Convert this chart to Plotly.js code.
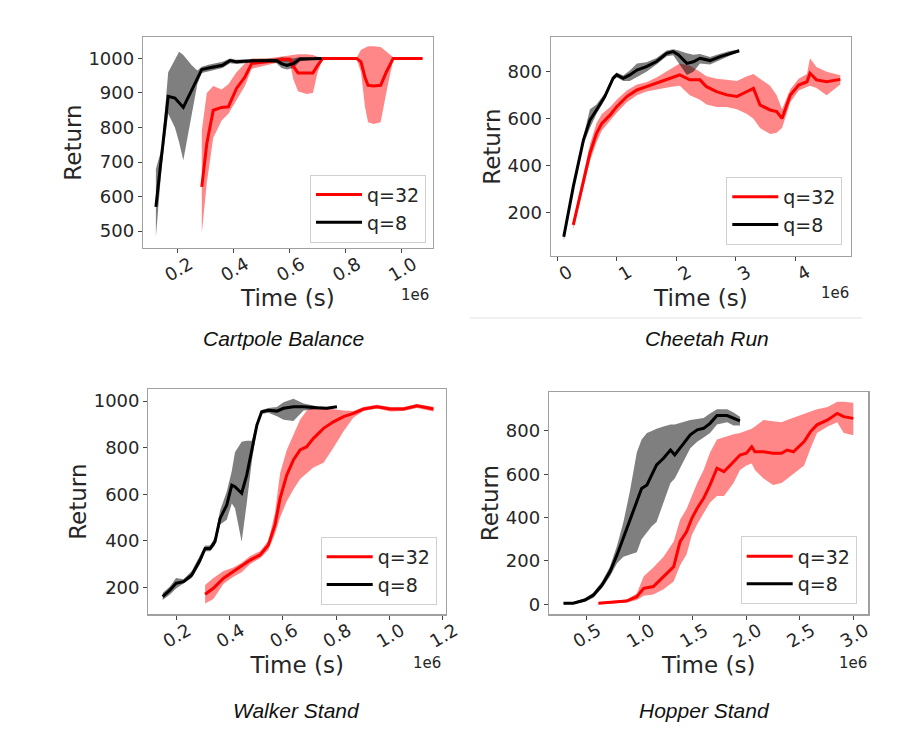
<!DOCTYPE html>
<html>
<head>
<meta charset="utf-8">
<script src="https://cdn.plot.ly/plotly-3.0.1.min.js"></script>
<style>html,body{margin:0;padding:0;background:#fff;}#chart{width:916px;height:744px;}</style>
</head>
<body>
<div id="chart"></div>
<script>
// ---------- Data (time in units of 1e6 s, return) ----------
// Cartpole Balance
const cartpoleTime8 = [0.122, 0.143, 0.166, 0.19, 0.205, 0.22, 0.25, 0.27, 0.286, 0.31, 0.34, 0.36, 0.387, 0.41, 0.47, 0.53, 0.553, 0.571, 0.59, 0.613, 0.637, 0.68, 0.714];
const cartpoleMean8 = [570, 715, 890, 885, 870, 858, 908, 940, 968, 972, 978, 980, 994, 990, 993, 994, 994, 985, 980, 985, 998, 999, 1000];
const cartpoleLow8  = [483, 690, 840, 800, 757, 705, 840, 925, 958, 962, 968, 972, 986, 984, 988, 989, 986, 972, 968, 972, 992, 996, 998];
const cartpoleHigh8 = [680, 740, 960, 995, 1019, 1010, 980, 965, 976, 982, 988, 990, 1000, 996, 998, 998, 1000, 1003, 1002, 1000, 1004, 1002, 1002];
const cartpoleTime32 = [0.286, 0.304, 0.327, 0.357, 0.381, 0.41, 0.44, 0.464, 0.52, 0.57, 0.6, 0.613, 0.63, 0.66, 0.683, 0.7, 0.718, 0.78, 0.839, 0.855, 0.869, 0.88, 0.9, 0.925, 0.945, 0.97, 1.02, 1.075];
const cartpoleMean32 = [628, 754, 850, 858, 860, 913, 946, 985, 990, 997, 998, 977, 958, 958, 958, 980, 1000, 1000, 1000, 990, 945, 922, 920, 922, 960, 1000, 1000, 1000];
const cartpoleLow32  = [493, 640, 770, 820, 840, 880, 920, 970, 980, 990, 990, 940, 905, 897, 900, 960, 998, 998, 998, 960, 860, 815, 810, 815, 900, 997, 998, 998];
const cartpoleHigh32 = [790, 900, 920, 910, 925, 960, 985, 1000, 1000, 1005, 1008, 1010, 1012, 1012, 1010, 1005, 1002, 1002, 1002, 1025, 1032, 1035, 1035, 1033, 1020, 1003, 1002, 1002];

// Cheetah Run
const cheetahTime8 = [0.11, 0.27, 0.44, 0.55, 0.66, 0.80, 0.94, 1.0, 1.11, 1.22, 1.34, 1.5, 1.67, 1.84, 1.95, 2.04, 2.18, 2.29, 2.4, 2.57, 2.74, 2.9, 3.06];
const cheetahMean8 = [98, 311, 509, 594, 637, 694, 772, 786, 772, 786, 807, 821, 843, 878, 885, 871, 835, 842, 857, 847, 864, 878, 889];
const cheetahLow8  = [80, 295, 490, 560, 620, 680, 762, 776, 760, 760, 775, 800, 830, 865, 870, 840, 786, 800, 835, 830, 850, 868, 884];
const cheetahHigh8 = [115, 325, 525, 640, 660, 708, 782, 796, 784, 805, 835, 840, 858, 890, 895, 890, 878, 872, 875, 862, 876, 888, 894];
const cheetahTime32 = [0.27, 0.38, 0.55, 0.66, 0.75, 0.89, 1.0, 1.17, 1.34, 1.5, 1.67, 1.9, 2.06, 2.23, 2.4, 2.51, 2.68, 2.85, 3.02, 3.19, 3.3, 3.41, 3.58, 3.69, 3.78, 3.92, 4.06, 4.2, 4.25, 4.36, 4.53, 4.76];
const cheetahMean32 = [148, 268, 453, 538, 580, 616, 651, 694, 722, 736, 750, 772, 786, 765, 765, 736, 715, 701, 694, 715, 729, 658, 637, 630, 601, 701, 743, 757, 793, 765, 757, 767];
const cheetahLow32  = [130, 245, 420, 500, 550, 590, 625, 670, 700, 715, 725, 735, 740, 700, 680, 660, 650, 650, 640, 620, 600, 560, 535, 540, 560, 670, 720, 735, 740, 730, 700, 745];
const cheetahHigh32 = [165, 290, 490, 580, 620, 650, 680, 720, 745, 755, 775, 810, 835, 825, 800, 780, 770, 765, 760, 780, 790, 770, 740, 700, 640, 725, 770, 790, 857, 820, 800, 785];

// Walker Stand
const walkerTime8 = [0.15, 0.178, 0.2, 0.228, 0.259, 0.29, 0.309, 0.328, 0.346, 0.365, 0.39, 0.409, 0.421, 0.446, 0.465, 0.484, 0.503, 0.521, 0.546, 0.578, 0.603, 0.64, 0.678, 0.728, 0.765, 0.803];
const walkerMean8 = [160, 189, 217, 224, 253, 317, 367, 367, 396, 496, 553, 639, 632, 604, 682, 782, 897, 954, 961, 957, 969, 976, 976, 971, 969, 976];
const walkerLow8  = [145, 170, 195, 215, 240, 300, 355, 355, 380, 470, 490, 560, 540, 396, 560, 740, 880, 945, 950, 935, 920, 915, 960, 965, 964, 972];
const walkerHigh8 = [175, 205, 240, 235, 270, 335, 380, 380, 415, 530, 610, 700, 780, 825, 830, 830, 910, 962, 970, 975, 995, 1010, 990, 978, 974, 980];
const walkerTime32 = [0.309, 0.34, 0.378, 0.415, 0.446, 0.478, 0.515, 0.546, 0.571, 0.59, 0.615, 0.64, 0.665, 0.69, 0.715, 0.753, 0.79, 0.828, 0.865, 0.903, 0.953, 1.003, 1.053, 1.103, 1.165];
const walkerMean32 = [170, 196, 239, 267, 289, 317, 339, 382, 468, 582, 682, 747, 790, 804, 840, 883, 911, 933, 947, 966, 976, 966, 966, 980, 966];
const walkerLow32  = [130, 150, 215, 245, 265, 300, 325, 360, 430, 500, 570, 620, 665, 690, 715, 735, 800, 870, 930, 958, 968, 955, 958, 970, 955];
const walkerHigh32 = [210, 240, 270, 285, 305, 335, 355, 400, 520, 690, 790, 854, 920, 960, 976, 975, 965, 960, 958, 975, 984, 975, 975, 988, 976];

// Hopper Stand
const hopperTime8 = [0.29, 0.38, 0.49, 0.57, 0.65, 0.725, 0.79, 0.85, 0.91, 0.975, 1.02, 1.07, 1.115, 1.16, 1.225, 1.29, 1.33, 1.4, 1.475, 1.54, 1.6, 1.66, 1.725, 1.82, 1.88, 1.94];
const hopperMean8 = [5, 5, 20, 43, 89, 151, 228, 305, 381, 474, 535, 551, 597, 643, 674, 712, 689, 735, 782, 805, 812, 835, 871, 871, 858, 846];
const hopperLow8  = [0, 0, 12, 30, 75, 130, 190, 220, 230, 240, 300, 330, 360, 380, 470, 560, 580, 650, 720, 750, 770, 790, 830, 840, 825, 825];
const hopperHigh8 = [10, 10, 28, 55, 105, 175, 270, 380, 520, 700, 760, 790, 800, 810, 820, 830, 830, 840, 850, 855, 860, 880, 900, 900, 885, 865];
const hopperTime32 = [0.616, 0.725, 0.88, 0.975, 1.04, 1.13, 1.225, 1.32, 1.38, 1.44, 1.49, 1.54, 1.6, 1.66, 1.725, 1.79, 1.88, 1.94, 2.0, 2.05, 2.08, 2.16, 2.25, 2.33, 2.38, 2.44, 2.54, 2.6, 2.66, 2.76, 2.85, 2.91, 3.0];
const hopperMean32 = [5, 9, 15, 35, 74, 82, 128, 174, 289, 335, 397, 443, 489, 551, 628, 612, 658, 689, 697, 727, 704, 704, 697, 697, 712, 704, 751, 797, 828, 851, 881, 866, 858];
const hopperLow32  = [0, 3, 8, 20, 40, 45, 70, 105, 180, 230, 320, 370, 420, 470, 500, 500, 560, 620, 640, 650, 620, 580, 550, 560, 580, 600, 640, 720, 790, 820, 840, 790, 780];
const hopperHigh32 = [10, 15, 22, 50, 130, 170, 220, 290, 390, 440, 500, 560, 620, 700, 760, 770, 785, 790, 800, 810, 820, 850, 845, 840, 850, 860, 880, 890, 900, 910, 935, 935, 930];

const seriesNames = ['q=32', 'q=8'];
const panelTitles = ['Cartpole Balance', 'Cheetah Run', 'Walker Stand', 'Hopper Stand'];

// ---------- Build ----------
const panels = [
  {xa:'x', ya:'y', lg:'legend',
   s32:[cartpoleTime32, cartpoleMean32, cartpoleLow32, cartpoleHigh32],
   s8:[cartpoleTime8, cartpoleMean8, cartpoleLow8, cartpoleHigh8]},
  {xa:'x2', ya:'y2', lg:'legend2',
   s32:[cheetahTime32, cheetahMean32, cheetahLow32, cheetahHigh32],
   s8:[cheetahTime8, cheetahMean8, cheetahLow8, cheetahHigh8]},
  {xa:'x3', ya:'y3', lg:'legend3',
   s32:[walkerTime32, walkerMean32, walkerLow32, walkerHigh32],
   s8:[walkerTime8, walkerMean8, walkerLow8, walkerHigh8]},
  {xa:'x4', ya:'y4', lg:'legend4',
   s32:[hopperTime32, hopperMean32, hopperLow32, hopperHigh32],
   s8:[hopperTime8, hopperMean8, hopperLow8, hopperHigh8]}
];

function band(s, xa, ya, color){
  const [t, m, lo, hi] = s;
  return {x: t.concat(t.slice().reverse()), y: hi.concat(lo.slice().reverse()),
    xaxis:xa, yaxis:ya, type:'scatter', mode:'lines', fill:'toself',
    fillcolor:color, line:{width:0}, hoverinfo:'skip', showlegend:false};
}
function line(s, xa, ya, color, name, lg){
  return {x:s[0], y:s[1], xaxis:xa, yaxis:ya, type:'scatter', mode:'lines',
    line:{color:color, width:3}, name:name, legend:lg};
}

const traces = [];
panels.forEach(p => {
  traces.push(band(p.s32, p.xa, p.ya, 'rgba(255,0,0,0.47)'));
  traces.push(band(p.s8, p.xa, p.ya, 'rgba(0,0,0,0.5)'));
  traces.push(line(p.s32, p.xa, p.ya, '#ff0000', seriesNames[0], p.lg));
  traces.push(line(p.s8, p.xa, p.ya, '#000000', seriesNames[1], p.lg));
});

const W = 916, H = 744;
const fx = v => v / W, fy = v => 1 - v / H;
const txt = '#262626';
function xaxis(dom, anchor, range, dtick, fmt){
  return {domain:[fx(dom[0]), fx(dom[1])], anchor:anchor, range:range, dtick:dtick, tick0:0,
    tickformat:fmt, showline:true, mirror:true, linecolor:'#a0a0a0', linewidth:1.2,
    ticks:'outside', ticklen:4, tickcolor:'#444', showgrid:false, zeroline:false,
    tickangle:-30, ticklabelshift:12, ticklabelstandoff:-6,
    tickfont:{family:'DejaVu Sans', size:18, color:txt},
    title:{text:'Time (s)', standoff:2, font:{family:'DejaVu Sans', size:23, color:txt}}};
}
function yaxis(dom, anchor, range, dtick){
  return {domain:[fy(dom[1]), fy(dom[0])], anchor:anchor, range:range, dtick:dtick, tick0:0,
    showline:true, mirror:true, linecolor:'#a0a0a0', linewidth:1.2,
    ticks:'outside', ticklen:4, tickcolor:'#444', showgrid:false, zeroline:false,
    tickfont:{family:'DejaVu Sans', size:18, color:txt},
    title:{text:'Return', standoff:0, font:{family:'DejaVu Sans', size:23, color:txt}}};
}
function legend(right, bottom){
  return {x:fx(right), y:fy(bottom), xanchor:'right', yanchor:'bottom',
    bgcolor:'rgba(255,255,255,0.85)', bordercolor:'#d0d0d0', borderwidth:1,
    itemwidth:46,
    font:{family:'DejaVu Sans', size:19, color:txt}, tracegroupgap:0};
}
function note(text, px, py, size, italic){
  return {text:text, xref:'paper', yref:'paper', x:fx(px), y:fy(py), xanchor:'center', yanchor:'middle',
    showarrow:false, font:{family: italic ? 'Liberation Sans' : 'DejaVu Sans', size:size, color: italic ? '#111' : txt,
    style: italic ? 'italic' : 'normal'}};
}

const layout = {
  width:W, height:H, margin:{l:0, r:0, t:0, b:0}, paper_bgcolor:'#fff', plot_bgcolor:'#fff',
  font:{family:'DejaVu Sans'}, showlegend:true,
  xaxis:  xaxis([143, 432.7], 'y',  [0.076, 1.111], 0.2, '.1f'),
  yaxis:  yaxis([37, 248], 'x', [451, 1062], 100),
  xaxis2: xaxis([550.7, 851], 'y2', [-0.11, 4.94], 1, 'd'),
  yaxis2: yaxis([37.3, 256], 'x2', [16, 946], 200),
  xaxis3: xaxis([148.3, 446], 'y3', [0.096, 1.212], 0.2, '.1f'),
  yaxis3: yaxis([389, 614.3], 'x3', [84, 1052], 200),
  xaxis4: xaxis([549, 868.3], 'y4', [0.154, 3.14], 0.5, '.1f'),
  yaxis4: yaxis([391.7, 614.3], 'x4', [-46, 981], 200),
  legend:  legend(426, 242.7),
  legend2: legend(842.3, 245),
  legend3: legend(436.7, 605),
  legend4: legend(856.7, 604.3),
  shapes:[{type:'line', xref:'paper', yref:'paper', x0:fx(470), x1:fx(862), y0:fy(318), y1:fy(318),
    line:{color:'#ececec', width:1.5}}],
  annotations:[
    note('1e6', 415, 295, 15), note('1e6', 835, 293, 15), note('1e6', 427, 663, 15), note('1e6', 853, 663, 15),
    note(panelTitles[0], 283, 338, 21, true), note(panelTitles[1], 707, 338, 21, true),
    note(panelTitles[2], 296, 710, 21, true), note(panelTitles[3], 704, 710, 21, true)
  ]
};

Plotly.newPlot('chart', traces, layout, {displayModeBar:false, staticPlot:true});
</script>
</body>
</html>
